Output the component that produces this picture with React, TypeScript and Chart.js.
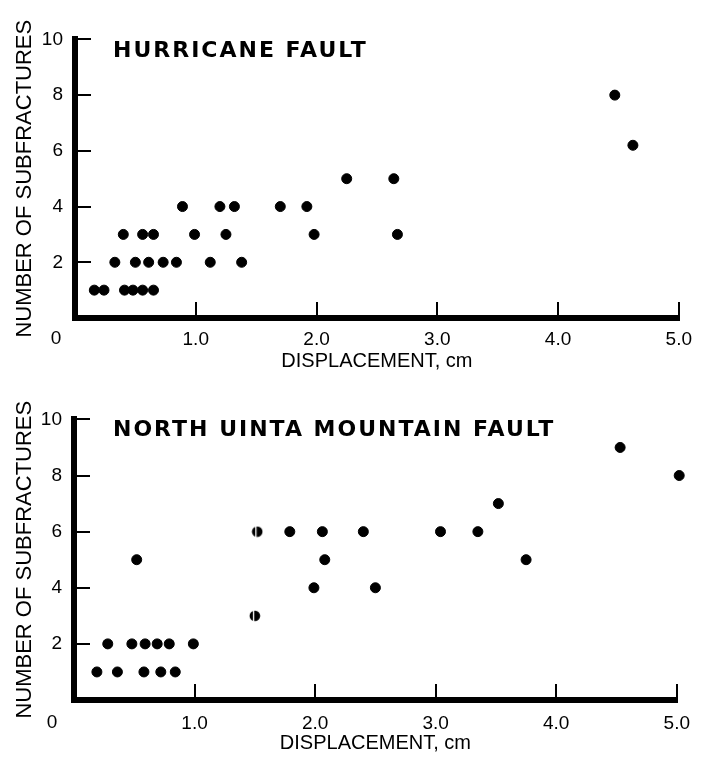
import React, { useEffect, useRef } from 'react';
import { Chart, registerables } from 'chart.js';

Chart.register(...registerables);

// ---- Data ----
const hurricaneX = [
  0.16, 0.24, 0.41, 0.48, 0.56, 0.65,
  0.33, 0.50, 0.61, 0.73, 0.84, 1.12, 1.38,
  0.40, 0.56, 0.65, 0.99, 1.25, 1.98, 2.67,
  0.89, 1.20, 1.32, 1.70, 1.92,
  2.25, 2.64,
  4.47, 4.62,
];
const hurricaneY = [
  1, 1, 1, 1, 1, 1,
  2, 2, 2, 2, 2, 2, 2,
  3, 3, 3, 3, 3, 3, 3,
  4, 4, 4, 4, 4,
  5, 5,
  8, 6.2,
];

const uintaX = [
  0.19, 0.36, 0.58, 0.72, 0.84,
  0.28, 0.48, 0.59, 0.69, 0.79, 0.99,
  0.52,
  1.79, 2.06, 2.40, 3.04, 3.35,
  2.08, 3.75,
  1.99, 2.50,
  3.52, 4.53, 5.02,
];
const uintaY = [
  1, 1, 1, 1, 1,
  2, 2, 2, 2, 2, 2,
  5,
  6, 6, 6, 6, 6,
  5, 5,
  4, 4,
  7, 9, 8,
];
// half-filled symbols
const uintaHalfX = [1.52, 1.50];
const uintaHalfY = [6, 3];

const xTickValues = [0, 1, 2, 3, 4, 5];
const yTickValues = [0, 2, 4, 6, 8, 10];
const panelTitles = ['HURRICANE FAULT', 'NORTH UINTA MOUNTAIN FAULT'];
const xAxisTitle = 'DISPLACEMENT, cm';
const yAxisTitle = 'NUMBER OF SUBFRACTURES';

const toPoints = (xs: number[], ys: number[]) => xs.map((x, i) => ({ x, y: ys[i] }));

const TICK_FONT = 19;

function makeHalfMarker(): HTMLCanvasElement {
  const c = document.createElement('canvas');
  c.width = 12;
  c.height = 12;
  const g = c.getContext('2d')!;
  g.fillStyle = '#000';
  g.beginPath();
  g.arc(6, 6, 5.3, 0, Math.PI * 2);
  g.fill();
  g.fillStyle = '#fff';
  g.fillRect(4, 0, 1.3, 12);
  return c;
}

const panelTextPlugin = {
  id: 'panelText',
  afterDraw(chart: any, _args: any, opts: any) {
    const ctx = chart.ctx;
    const xs = chart.scales.x;
    const area = chart.chartArea;
    ctx.save();
    ctx.fillStyle = '#000';
    ctx.font = 'bold 22px "DejaVu Sans"';
    (ctx as any).letterSpacing = '2px';
    ctx.textAlign = 'left';
    ctx.textBaseline = 'alphabetic';
    ctx.fillText(opts.title, area.left + opts.titleDx, area.top + opts.titleDy);
    (ctx as any).letterSpacing = '0px';
    ctx.font = `${TICK_FONT}px "Liberation Sans"`;
    ctx.textAlign = 'center';
    ctx.textBaseline = 'middle';
    ctx.fillText('0', xs.getPixelForValue(0) + opts.zeroDx, area.bottom + opts.zeroDy);
    ctx.restore();
  },
};

interface PanelGeom {
  left: number;
  right: number;
  top: number;
  bottom: number;
  xTickPad: number;
  xTitlePad: number;
  zeroDx: number;
  zeroDy: number;
  titleDx: number;
  titleDy: number;
}

function buildConfig(title: string, datasets: any[], g: PanelGeom): any {
  const W = 718;
  const H = 380;
  return {
    type: 'scatter',
    data: { datasets },
    plugins: [panelTextPlugin],
    options: {
      responsive: false,
      animation: false,
      events: [],
      layout: { padding: { left: 0, right: W - g.right, top: g.top, bottom: 0 } },
      plugins: {
        legend: { display: false },
        tooltip: { enabled: false },
        title: { display: false },
        panelText: {
          title,
          titleDx: g.titleDx,
          titleDy: g.titleDy,
          zeroDx: g.zeroDx,
          zeroDy: g.zeroDy,
        },
      },
      scales: {
        x: {
          type: 'linear',
          min: 0,
          max: 5,
          afterBuildTicks: (s: any) => {
            s.ticks = xTickValues.map((v) => ({ value: v }));
          },
          afterFit: (s: any) => {
            s.height = H - g.bottom;
          },
          ticks: {
            color: '#000',
            padding: g.xTickPad,
            font: { family: '"Liberation Sans"', size: TICK_FONT },
            callback: (v: number) => (v === 0 ? '' : Number(v).toFixed(1)),
            maxRotation: 0,
            autoSkip: false,
          },
          grid: {
            display: true,
            drawOnChartArea: false,
            drawTicks: true,
            tickLength: -16,
            color: '#000',
            lineWidth: 2,
          },
          border: { display: true, color: '#000', width: 6 },
          title: {
            display: true,
            text: xAxisTitle,
            color: '#000',
            font: { family: '"Liberation Sans"', size: 20 },
            padding: { top: 0, bottom: g.xTitlePad },
          },
        },
        y: {
          type: 'linear',
          min: 0,
          max: 10,
          afterBuildTicks: (s: any) => {
            s.ticks = yTickValues.map((v) => ({ value: v }));
          },
          afterFit: (s: any) => {
            s.width = g.left;
          },
          ticks: {
            color: '#000',
            padding: 28,
            font: { family: '"Liberation Sans"', size: TICK_FONT },
            callback: (v: number) => (v === 0 ? '' : String(v)),
            autoSkip: false,
          },
          grid: {
            display: true,
            drawOnChartArea: false,
            drawTicks: true,
            tickLength: -16,
            color: '#000',
            lineWidth: 2,
          },
          border: { display: true, color: '#000', width: 6 },
          title: {
            display: true,
            text: yAxisTitle,
            color: '#000',
            font: { family: '"Liberation Sans"', size: 22 },
            padding: { top: 12, bottom: 0 },
          },
        },
      },
    },
  };
}

function Panel({ title, datasets, geom, top }: { title: string; datasets: any[]; geom: PanelGeom; top: number }) {
  const ref = useRef<HTMLCanvasElement>(null);
  useEffect(() => {
    if (!ref.current) return;
    const chart = new Chart(ref.current, buildConfig(title, datasets, geom));
    return () => chart.destroy();
  }, []);
  return (
    <canvas
      ref={ref}
      width={718}
      height={380}
      style={{ position: 'absolute', left: 0, top, width: 718, height: 380 }}
    />
  );
}

export default function App() {
  const dot = {
    pointRadius: 5,
    pointBorderWidth: 1,
    pointBackgroundColor: '#000',
    pointBorderColor: '#000',
    showLine: false,
    clip: false,
  };
  const half = makeHalfMarker();

  const topDatasets = [{ label: 'Hurricane', data: toPoints(hurricaneX, hurricaneY), ...dot }];
  const bottomDatasets = [
    { label: 'North Uinta', data: toPoints(uintaX, uintaY), ...dot },
    {
      label: 'North Uinta (partial)',
      data: toPoints(uintaHalfX, uintaHalfY),
      pointStyle: half,
      pointRadius: 6,
      showLine: false,
      clip: false,
    },
  ];

  const topGeom: PanelGeom = {
    left: 75, right: 682, top: 15, bottom: 318,
    xTickPad: 26, xTitlePad: 7, zeroDx: -19, zeroDy: 21, titleDx: 38, titleDy: 18,
  };
  const bottomGeom: PanelGeom = {
    left: 74, right: 679, top: 15, bottom: 320,
    xTickPad: 28, xTitlePad: 5, zeroDx: -22, zeroDy: 23, titleDx: 39, titleDy: 17,
  };

  return (
    <div style={{ position: 'absolute', left: 0, top: 0, width: 718, height: 760, background: '#fff' }}>
      <Panel title={panelTitles[0]} datasets={topDatasets} geom={topGeom} top={0} />
      <Panel title={panelTitles[1]} datasets={bottomDatasets} geom={bottomGeom} top={380} />
    </div>
  );
}
